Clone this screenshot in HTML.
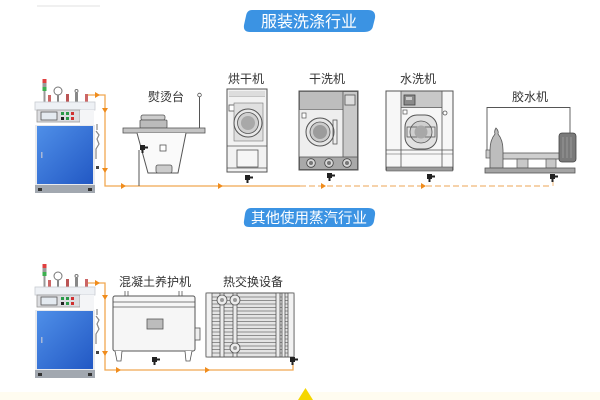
<!DOCTYPE html>
<html><head><meta charset="utf-8">
<style>
html,body{margin:0;padding:0;background:#fff;}
body{width:600px;height:400px;overflow:hidden;}
svg{display:block;}
text{font-family:"Liberation Sans","Noto Sans CJK SC",sans-serif;}
</style></head>
<body>
<svg width="600" height="400" viewBox="0 0 600 400" xmlns="http://www.w3.org/2000/svg">
<defs>
<linearGradient id="blue" x1="0" y1="0" x2="1" y2="1">
<stop offset="0" stop-color="#4f8fe8"/><stop offset="1" stop-color="#2258c4"/>
</linearGradient>
<g id="boiler">
  <!-- light stack -->
  <rect x="42.5" y="79" width="4" height="4" fill="#e04040"/>
  <rect x="42.5" y="83" width="4" height="4" fill="#9a9a9a"/>
  <rect x="42.5" y="87" width="4" height="4" fill="#3cb050"/>
  <rect x="43.5" y="91" width="2" height="11" fill="#999"/>
  <!-- valves -->
  <circle cx="58" cy="91" r="4" fill="#fff" stroke="#777"/>
  <rect x="57" y="95" width="2" height="7" fill="#888"/>
  <rect x="48" y="95" width="3" height="7" fill="#c66"/>
  <rect x="66" y="94" width="3" height="8" fill="#b55"/>
  <rect x="75" y="93" width="3" height="9" fill="#888"/>
  <circle cx="76.5" cy="91" r="1.5" fill="none" stroke="#777"/>
  <rect x="85" y="94" width="3" height="8" fill="#c66"/>
  <!-- top plate -->
  <rect x="35" y="102" width="60" height="8" fill="#eef1f5" stroke="#c8ccd2" stroke-width="0.8"/>
  <!-- control panel -->
  <rect x="37" y="110" width="43" height="12" fill="#dcdde0" stroke="#9a9a9a" stroke-width="0.8"/>
  <rect x="41" y="112" width="16" height="8" fill="#e4eaf0" stroke="#555" stroke-width="0.8"/>
  <rect x="61" y="112" width="3" height="3" fill="#2a9a48"/>
  <rect x="66" y="112" width="3" height="3" fill="#2a9a48"/>
  <rect x="71" y="112" width="3" height="3" fill="#d03030"/>
  <rect x="61" y="117" width="3" height="3" fill="#222"/>
  <rect x="66" y="117" width="3" height="3" fill="#2a9a48"/>
  <rect x="71" y="117" width="3" height="3" fill="#d03030"/>
  <rect x="80" y="110" width="14" height="16" fill="#f4f5f7"/>
  <!-- body -->
  <rect x="35" y="125" width="60" height="60" fill="#e8eaee"/>
  <rect x="37" y="126" width="56" height="58" fill="url(#blue)"/>
  <rect x="41" y="152" width="1.5" height="6" fill="#a8b8d8"/>
  <!-- side pipes -->
  <path d="M97 124 v6 M96 131 l3 4 -2 4 2 5 -3 5 v10" fill="none" stroke="#888" stroke-width="1.2"/>
  <rect x="96" y="166" width="3" height="3" fill="#444"/>
  <!-- base -->
  <rect x="35" y="185" width="60" height="8" fill="#a2a8b0"/>
  <rect x="38" y="188" width="4" height="3" fill="#333"/>
  <rect x="88" y="188" width="4" height="3" fill="#333"/>
</g>
<g id="valve">
  <rect x="-3" y="-4" width="5" height="5" fill="#222"/>
  <rect x="2" y="-2.5" width="3" height="2" fill="#222"/>
  <rect x="-1.5" y="1" width="2" height="3" fill="#222"/>
</g>
</defs>

<!-- faint top-left line -->
<line x1="37" y1="6" x2="100" y2="6" stroke="#e2e2e2" stroke-width="1"/>

<!-- Title badge 1 -->
<path d="M252 10 H368 Q376 10 375 18 L373 26 Q372 32 364 32 H250 Q243 32 244 25 L246 16 Q247 10 252 10 Z" fill="#3b93e3"/>
<text x="309" y="27" font-size="16" fill="#fff" text-anchor="middle">服装洗涤行业</text>

<!-- Title badge 2 -->
<path d="M251 208 H368 Q376 208 375 215 L374 221 Q373 227 366 227 H249 Q243 227 244 221 L245 214 Q246 208 251 208 Z" fill="#3b93e3"/>
<text x="309" y="223" font-size="14.5" fill="#fff" text-anchor="middle">其他使用蒸汽行业</text>

<!-- ===== Section 1 ===== -->
<use href="#boiler"/>
<!-- pipes -->
<g stroke="#f0a850" stroke-width="1.3" fill="none">
  <path d="M88 95 H105 V186 H300"/>
</g>
<line x1="300" y1="186" x2="552" y2="186" stroke="#f0b878" stroke-width="1.2" stroke-dasharray="6 3"/>
<line x1="553" y1="179" x2="553" y2="186" stroke="#f0b878" stroke-width="1"/>
<g fill="#f08c1c">
  <path d="M95 92 L100 95 L95 98 Z"/>
  <path d="M102 108 L108 108 L105 113 Z"/>
  <path d="M102 168 L108 168 L105 173 Z"/>
  <path d="M121 183 L126 186 L121 189 Z"/>
  <path d="M218 183 L223 186 L218 189 Z"/>
  <path d="M321 183 L326 186 L321 189 Z"/>
  <path d="M421 183 L426 186 L421 189 Z"/>
</g>

<!-- Ironing table 熨烫台 -->
<text x="166" y="101" font-size="12" fill="#333" text-anchor="middle">熨烫台</text>
<circle cx="199.5" cy="95" r="1.8" fill="none" stroke="#555" stroke-width="0.8"/>
<line x1="199.5" y1="97" x2="199.5" y2="128" stroke="#555" stroke-width="1"/>
<rect x="141" y="115" width="24" height="5" rx="2" fill="#ccc" stroke="#555" stroke-width="0.8"/>
<rect x="140" y="120" width="27" height="8" rx="1" fill="#bbb" stroke="#555" stroke-width="0.8"/>
<rect x="123" y="128" width="82" height="5" fill="#c4c4c4" stroke="#555" stroke-width="0.8"/>
<path d="M137 133 L148 173 H178 L186 133" fill="#fafafa" stroke="#555" stroke-width="1"/>
<rect x="160" y="145" width="6" height="6" fill="#fff" stroke="#555" stroke-width="0.8"/>
<rect x="156" y="165" width="16" height="8" rx="2" fill="#ccc" stroke="#555" stroke-width="0.8"/>
<line x1="139" y1="150" x2="139" y2="186" stroke="#555" stroke-width="1"/>
<use href="#valve" x="143" y="149"/>

<!-- Dryer 烘干机 -->
<text x="246" y="83" font-size="12" fill="#333" text-anchor="middle">烘干机</text>
<rect x="227" y="89" width="40" height="83" fill="#f2f2f2" stroke="#555" stroke-width="1"/>
<line x1="229" y1="96" x2="265" y2="96" stroke="#777" stroke-width="0.8"/>
<rect x="229" y="91" width="36" height="5" fill="#ddd"/>
<rect x="229" y="105" width="6" height="6" fill="#fff" stroke="#555" stroke-width="0.8"/>
<rect x="234" y="103" width="29" height="38" fill="#e0e0e0" stroke="#777" stroke-width="0.6"/>
<circle cx="248" cy="123" r="14" fill="#e8e8e8" stroke="#555" stroke-width="1"/>
<circle cx="248" cy="123" r="10.5" fill="#cfcfcf" stroke="#555" stroke-width="0.8"/>
<circle cx="248" cy="123" r="7" fill="#a8a8a8"/>
<line x1="227" y1="146" x2="267" y2="146" stroke="#555" stroke-width="0.8"/>
<rect x="237" y="150" width="21" height="17" fill="#f6f6f6" stroke="#555" stroke-width="0.8"/>
<line x1="227" y1="168" x2="267" y2="168" stroke="#555" stroke-width="0.8"/>
<use href="#valve" x="248" y="179"/>

<!-- Dry cleaner 干洗机 -->
<text x="327" y="83" font-size="12" fill="#333" text-anchor="middle">干洗机</text>
<rect x="299" y="91" width="59" height="79" fill="#eeeeee" stroke="#555" stroke-width="1"/>
<rect x="299.5" y="91.5" width="44" height="18" fill="#bdbdbd" stroke="#555" stroke-width="0.6"/>
<rect x="343" y="91.5" width="14.5" height="66" fill="#c9c9c9" stroke="#555" stroke-width="0.8"/>
<rect x="345" y="95" width="10" height="10" fill="#ddd" stroke="#555" stroke-width="0.8"/>
<rect x="302" y="113" width="4" height="5" fill="#fff" stroke="#555" stroke-width="0.7"/>
<circle cx="320" cy="132" r="14" fill="#e6e6e6" stroke="#555" stroke-width="1"/>
<circle cx="320" cy="132" r="10" fill="#cbcbcb" stroke="#555" stroke-width="0.8"/>
<circle cx="320" cy="132" r="7" fill="#9c9c9c"/>
<rect x="333" y="120" width="4" height="24" fill="none" stroke="#555" stroke-width="0.8"/>
<rect x="299.5" y="157" width="58" height="12.5" fill="#a9a9a9" stroke="#555" stroke-width="0.8"/>
<g fill="#d8d8d8" stroke="#444" stroke-width="0.8">
  <circle cx="311" cy="163" r="4.3"/><circle cx="329" cy="163" r="4.3"/><circle cx="347" cy="163" r="4.3"/>
</g>
<g fill="#777"><circle cx="311" cy="163" r="2"/><circle cx="329" cy="163" r="2"/><circle cx="347" cy="163" r="2"/></g>
<use href="#valve" x="330" y="177"/>

<!-- Washer 水洗机 -->
<text x="418" y="83" font-size="12" fill="#333" text-anchor="middle">水洗机</text>
<rect x="386" y="91" width="67" height="79" fill="#f7f7f7" stroke="#555" stroke-width="1"/>
<rect x="401" y="91.5" width="41" height="16" fill="#c8c8c8"/>
<line x1="401" y1="91" x2="401" y2="168" stroke="#555" stroke-width="0.8"/>
<line x1="442" y1="91" x2="442" y2="168" stroke="#555" stroke-width="0.8"/>
<line x1="401" y1="107.5" x2="442" y2="107.5" stroke="#555" stroke-width="0.7"/>
<rect x="404" y="95" width="11" height="10" fill="#8a8a8a" stroke="#444" stroke-width="0.8"/>
<rect x="406" y="97" width="6" height="3" fill="#ccc"/>
<rect x="403" y="110" width="4" height="4" fill="#fff" stroke="#555" stroke-width="0.7"/>
<rect x="405" y="115" width="32" height="34" rx="12" fill="#e2e2e2" stroke="#555" stroke-width="1"/>
<circle cx="421" cy="132" r="11" fill="#cfcfcf" stroke="#555" stroke-width="0.8"/>
<rect x="407" y="127" width="28" height="10" fill="none" stroke="#555" stroke-width="0.8"/>
<circle cx="421" cy="132" r="6.5" fill="#a8a8a8"/>
<circle cx="445" cy="113" r="2" fill="#fff" stroke="#555" stroke-width="0.8"/>
<line x1="386" y1="150" x2="453" y2="150" stroke="#555" stroke-width="0.8"/>
<line x1="386" y1="154" x2="453" y2="154" stroke="#555" stroke-width="0.6"/>
<rect x="386.5" y="167" width="66" height="4" fill="#9a9a9a" stroke="#555" stroke-width="0.6"/>
<use href="#valve" x="430" y="178"/>

<!-- Glue machine 胶水机 -->
<text x="530" y="101" font-size="12" fill="#333" text-anchor="middle">胶水机</text>
<path d="M487 150 V107.5 H570 V134" fill="none" stroke="#555" stroke-width="0.9"/>
<rect x="500" y="153" width="60" height="6" fill="#cfcfcf" stroke="#555" stroke-width="0.8"/>
<rect x="486" y="150" width="5" height="8" fill="#ccc" stroke="#555" stroke-width="0.7"/>
<path d="M496 128 Q494 131 495 134 Q490 140 490 150 V168 H503 V150 Q503 140 498 134 Q499 131 496 128 Z" fill="#bdbdbd" stroke="#555" stroke-width="0.8"/>
<rect x="517" y="159" width="11" height="9" fill="#c8c8c8" stroke="#555" stroke-width="0.7"/>
<rect x="546" y="159" width="10" height="9" fill="#c8c8c8" stroke="#555" stroke-width="0.7"/>
<rect x="559" y="133" width="17" height="29" rx="3" fill="#7a7a7a" stroke="#444" stroke-width="0.8"/>
<g stroke="#a0a0a0" stroke-width="0.8"><line x1="563" y1="137" x2="563" y2="158"/><line x1="567" y1="137" x2="567" y2="158"/><line x1="571" y1="137" x2="571" y2="158"/></g>
<rect x="485" y="168" width="90" height="5" fill="#a4a4a4" stroke="#555" stroke-width="0.8"/>
<use href="#valve" x="553" y="178"/>

<!-- ===== Section 2 ===== -->
<use href="#boiler" transform="translate(0,185)"/>
<g stroke="#f0a850" stroke-width="1.3" fill="none">
  <path d="M88 283 H105 V370 H293 V363"/>
</g>
<g fill="#f08c1c">
  <path d="M95 280 L100 283 L95 286 Z"/>
  <path d="M102 295 L108 295 L105 300 Z"/>
  <path d="M102 351 L108 351 L105 356 Z"/>
  <path d="M116 367 L121 370 L116 373 Z"/>
  <path d="M205 367 L210 370 L205 373 Z"/>
</g>

<!-- Concrete curing 混凝土养护机 -->
<text x="155" y="286" font-size="12" fill="#333" text-anchor="middle">混凝土养护机</text>
<g stroke="#555" stroke-width="0.8">
  <line x1="125" y1="291" x2="125" y2="296"/><line x1="128" y1="291" x2="128" y2="296"/>
  <line x1="179" y1="291" x2="179" y2="296"/><line x1="182" y1="291" x2="182" y2="296"/>
</g>
<rect x="113" y="296" width="82" height="55" rx="2" fill="#f6f6f6" stroke="#555" stroke-width="1"/>
<line x1="113" y1="302" x2="195" y2="302" stroke="#555" stroke-width="0.8"/>
<line x1="113" y1="307" x2="195" y2="307" stroke="#555" stroke-width="0.8"/>
<rect x="147" y="319" width="16" height="10" fill="#bcbcbc" stroke="#555" stroke-width="0.8"/>
<rect x="195" y="328" width="5" height="12" fill="#eee" stroke="#555" stroke-width="0.8"/>
<path d="M115 351 L117 361 H121 L122 351 M185 351 L186 361 H190 L192 351" fill="#fff" stroke="#555" stroke-width="0.8"/>
<use href="#valve" x="155" y="361"/>

<!-- Heat exchanger 热交换设备 -->
<text x="253" y="286" font-size="12" fill="#333" text-anchor="middle">热交换设备</text>
<rect x="206" y="293" width="88" height="64" rx="2" fill="#e4e4e4" stroke="#555" stroke-width="1"/>
<g stroke="#8e8e8e" stroke-width="0.9">
  <line x1="212" y1="297" x2="288" y2="297"/><line x1="212" y1="300.5" x2="288" y2="300.5"/>
  <line x1="212" y1="304" x2="288" y2="304"/><line x1="212" y1="307.5" x2="288" y2="307.5"/>
  <line x1="212" y1="311" x2="288" y2="311"/><line x1="212" y1="314.5" x2="288" y2="314.5"/>
  <line x1="212" y1="318" x2="288" y2="318"/><line x1="212" y1="321.5" x2="288" y2="321.5"/>
  <line x1="212" y1="325" x2="288" y2="325"/><line x1="212" y1="328.5" x2="288" y2="328.5"/>
  <line x1="212" y1="332" x2="288" y2="332"/><line x1="212" y1="335.5" x2="288" y2="335.5"/>
  <line x1="212" y1="339" x2="288" y2="339"/><line x1="212" y1="342.5" x2="288" y2="342.5"/>
  <line x1="212" y1="346" x2="288" y2="346"/><line x1="212" y1="349.5" x2="288" y2="349.5"/>
  <line x1="212" y1="353" x2="288" y2="353"/>
</g>
<rect x="206" y="293" width="6" height="64" fill="#f2f2f2" stroke="#555" stroke-width="0.8"/>
<rect x="288" y="293" width="6" height="64" fill="#f2f2f2" stroke="#555" stroke-width="0.8"/>
<g fill="#ececec" stroke="#555" stroke-width="0.8">
  <rect x="220" y="293" width="4" height="64"/>
  <rect x="233" y="293" width="4" height="64"/>
  <rect x="276" y="293" width="4" height="64"/>
  <rect x="282" y="293" width="3" height="64"/>
  <circle cx="222" cy="300" r="5"/>
  <circle cx="235" cy="300" r="5"/>
  <circle cx="235" cy="348" r="5"/>
</g>
<g fill="#999"><circle cx="222" cy="300" r="2"/><circle cx="235" cy="300" r="2"/><circle cx="235" cy="348" r="2"/></g>
<use href="#valve" x="293" y="361"/>

<!-- bottom cream band and triangle -->
<rect x="0" y="392" width="600" height="8" fill="#fffcf0"/>
<path d="M298 400 L305.5 388 L313 400 Z" fill="#f5d600"/>
</svg>
</body></html>
